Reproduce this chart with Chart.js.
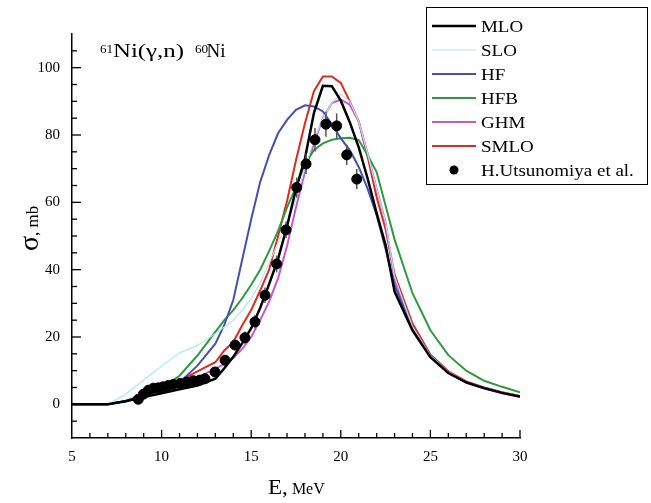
<!DOCTYPE html>
<html>
<head>
<meta charset="utf-8">
<script src="https://cdn.jsdelivr.net/npm/chart.js@4.4.1/dist/chart.umd.min.js"></script>
<style>
  body { margin: 0; background: #fff; }
</style>
</head>
<body>
<canvas id="xsChart" width="651" height="503"></canvas>
<script>
// photon energy grid of the model curves, MeV
var energy = [5, 7, 8, 9, 10, 11, 12, 13, 13.5, 14, 14.5, 15, 15.5, 16, 16.5, 17, 17.5, 18, 18.5, 19, 19.5, 20, 20.5, 21, 21.5, 22, 22.5, 23, 24, 25, 26, 27, 28, 29, 30];

// cross sections, mb
var mlo  = [0, 0, 0.9, 2.2, 3.3, 4.5, 5.6, 7.6, 10.7, 14.1, 18.2, 22.6, 28.6, 35.7, 43.2, 52.9, 64, 73, 86.5, 94.6, 94.5, 90.2, 83.8, 76.3, 67, 56.8, 47.3, 33.5, 22, 14, 9.3, 6.5, 4.8, 3.4, 2.3];
var slo  = [0, 0, 3.0, 7.2, 11.4, 15.3, 17.5, 21, 23, 25, 28, 31.5, 36, 42, 48, 54.1, 60.9, 70.3, 78.4, 84.8, 89.6, 92, 90, 84, 74.5, 64, 54, 38, 23, 14.5, 9.6, 6.7, 5, 3.6, 2.5];
var hf   = [0, 0, 1.0, 2.7, 4.5, 6.5, 11.5, 18, 23.6, 31, 43, 55, 66, 74, 80.5, 84.5, 87.5, 88.8, 88.5, 87, 83.2, 79, 75.5, 70.5, 64, 56.2, 46.1, 35.4, 22.5, 14.5, 9.5, 6.6, 4.9, 3.5, 2.4];
var hfb  = [0, 0, 1.0, 2.7, 4.8, 8.5, 14.5, 21.5, 25, 28, 31.5, 35.5, 40, 45.5, 51.5, 58.5, 64.5, 71.5, 75.5, 77.5, 78.6, 79, 79.2, 78.5, 74, 69, 59, 49, 33, 22, 14.6, 10, 7, 5.2, 3.6];
var ghm  = [0, 0, 0.9, 2.5, 4.2, 6, 8, 10.5, 12, 13.8, 16.5, 20, 25, 30.5, 37.5, 47, 58.5, 69, 77.5, 85, 89.5, 90.5, 89, 84, 74.5, 64, 54, 37, 23, 14.2, 9.3, 6.4, 4.7, 3.3, 2.2];
var smlo = [0, 0, 1.0, 2.7, 4.5, 7.0, 9.8, 12.5, 16, 18.5, 23.5, 28, 33.8, 40, 50, 60.4, 72.5, 83.5, 93, 97.4, 97.4, 95.5, 90, 84, 73.5, 61.5, 52, 38.5, 24, 14.8, 9.8, 6.8, 5, 3.6, 2.5];

// experiment (H.Utsunomiya et al.)
var expE   = [8.70, 8.98, 9.26, 9.54, 9.82, 10.09, 10.37, 10.65, 11.03, 11.40, 11.77, 12.14, 12.42, 12.98, 13.54, 14.10, 14.65, 15.21, 15.77, 16.42, 16.94, 17.54, 18.06, 18.56, 19.17, 19.77, 20.33, 20.89];
var expSig = [1.5, 3.0, 4.2, 4.8, 4.9, 5.2, 5.6, 5.9, 6.2, 6.6, 7.0, 7.2, 7.6, 9.6, 13.1, 17.6, 19.8, 24.5, 32.4, 41.7, 51.8, 64.4, 71.4, 78.6, 83.2, 82.7, 74.1, 66.9];
var expErr = [0.5, 0.6, 0.6, 0.6, 0.6, 0.6, 0.7, 0.7, 0.7, 0.7, 0.8, 0.8, 0.8, 1.0, 1.2, 1.5, 1.8, 2.0, 2.3, 2.5, 2.5, 3.0, 3.0, 3.5, 3.7, 3.7, 3.0, 3.0];

var serif = "'Liberation Serif', 'Times New Roman', serif";

function pts(vals) {
  return energy.map(function (e, i) { return { x: e, y: vals[i] }; });
}

function curve(label, vals, color, width) {
  return {
    label: label,
    data: pts(vals),
    borderColor: color,
    backgroundColor: color,
    borderWidth: width,
    pointRadius: 0,
    tension: 0,
    fill: false
  };
}

// draw text squeezed/stretched horizontally; sx<0 means "fit to width -sx"
function stretchText(ctx, text, x, y, size, sx) {
  ctx.save();
  ctx.font = size + 'px ' + serif;
  var nat = ctx.measureText(text).width;
  if (sx < 0) sx = -sx / nat;
  ctx.translate(x, y);
  ctx.scale(sx, 1);
  ctx.fillText(text, 0, 0);
  ctx.restore();
  return nat * sx;
}

var decor = {
  id: 'decor',
  beforeDatasetDraw: function (chart, args) {
    if (args.index !== 6) return;
    var ctx = chart.ctx, xs = chart.scales.x, ys = chart.scales.y;
    ctx.save();
    ctx.strokeStyle = '#555';
    ctx.lineWidth = 1.5;
    expE.forEach(function (e, i) {
      var px = xs.getPixelForValue(e);
      ctx.beginPath();
      ctx.moveTo(px, ys.getPixelForValue(expSig[i] - expErr[i]));
      ctx.lineTo(px, ys.getPixelForValue(expSig[i] + expErr[i]));
      ctx.stroke();
    });
    ctx.restore();
  },
  afterDraw: function (chart) {
    var ctx = chart.ctx, xs = chart.scales.x, ys = chart.scales.y, a = chart.chartArea;
    ctx.save();
    // inward ticks
    ctx.strokeStyle = '#000';
    ctx.lineWidth = 1.3;
    for (var e = 6; e <= 30; e++) {
      var px = xs.getPixelForValue(e);
      var len = e % 5 === 0 ? 8 : 5;
      ctx.beginPath();
      ctx.moveTo(px, a.bottom);
      ctx.lineTo(px, a.bottom - len);
      ctx.stroke();
    }
    for (var v = -5; v <= 105; v += 5) {
      var py = ys.getPixelForValue(v);
      var l2 = v % 20 === 0 ? 9 : 5;
      ctx.beginPath();
      ctx.moveTo(a.left, py);
      ctx.lineTo(a.left + l2, py);
      ctx.stroke();
    }

    ctx.fillStyle = '#000';
    ctx.textBaseline = 'alphabetic';
    ctx.textAlign = 'left';

    // axis titles
    var w = stretchText(ctx, 'E,', 268, 494, 21, 1.1);
    stretchText(ctx, 'MeV', 268 + w + 4, 494, 16, 1.0);

    ctx.save();
    ctx.translate(38, 251);
    ctx.rotate(-Math.PI / 2);
    ctx.font = '28px ' + serif;
    ctx.fillText('\u03c3', 0, 0);
    var sw = ctx.measureText('\u03c3').width;
    ctx.font = '17px ' + serif;
    ctx.fillText(', mb', sw, 0);
    ctx.restore();

    // reaction label
    stretchText(ctx, '61', 100, 52.5, 12, 1.1);
    stretchText(ctx, 'Ni(\u03b3,n)', 113, 57, 19, -71);
    stretchText(ctx, '60', 195, 52.5, 12, 1.1);
    stretchText(ctx, 'Ni', 206.5, 57, 19, -19);

    // legend box
    ctx.fillStyle = '#fff';
    ctx.fillRect(426, 7, 222, 177);
    ctx.strokeStyle = '#000';
    ctx.lineWidth = 1;
    ctx.strokeRect(426.5, 7.5, 221, 177);
    chart.data.datasets.forEach(function (ds, i) {
      var ry = 26 + i * 24;
      if (ds.showLine === false) {
        ctx.fillStyle = '#000';
        ctx.beginPath();
        ctx.arc(454, ry, 4.5, 0, Math.PI * 2);
        ctx.fill();
      } else {
        ctx.strokeStyle = ds.borderColor;
        ctx.lineWidth = ds.borderWidth;
        ctx.beginPath();
        ctx.moveTo(432, ry);
        ctx.lineTo(476, ry);
        ctx.stroke();
      }
      ctx.fillStyle = '#000';
      stretchText(ctx, ds.label, 481, ry + 6, 16.5, 1.15);
    });
    ctx.restore();
  }
};

var ctx = document.getElementById('xsChart').getContext('2d');
var xsChart = new Chart(ctx, {
  type: 'line',
  data: {
    datasets: [
      curve('MLO', mlo, '#000000', 2.5),
      curve('SLO', slo, '#aee8ec', 1.2),
      curve('HF', hf, '#4450b4', 2),
      curve('HFB', hfb, '#2e9a3e', 2),
      curve('GHM', ghm, '#c957cc', 2),
      curve('SMLO', smlo, '#e3281e', 2),
      {
        label: 'H.Utsunomiya et al.',
        type: 'scatter',
        data: expE.map(function (e, i) { return { x: e, y: expSig[i] }; }),
        backgroundColor: '#000',
        borderColor: '#000',
        pointRadius: 5,
        showLine: false,
        order: -1
      }
    ]
  },
  options: {
    responsive: false,
    animation: false,
    events: [],
    layout: { padding: { top: 34, right: 131, left: 0, bottom: 0 } },
    plugins: {
      legend: { display: false },
      tooltip: { enabled: false }
    },
    scales: {
      x: {
        type: 'linear',
        min: 5,
        max: 30,
        afterFit: function (s) { s.height = 65; },
        grid: { display: false, drawTicks: false },
        border: { display: true, color: '#000', width: 1.5 },
        ticks: { stepSize: 5, padding: 10, maxRotation: 0, color: '#000', font: { family: serif, size: 15 } }
      },
      y: {
        type: 'linear',
        min: -10,
        max: 110,
        afterFit: function (s) { s.width = 72; },
        grid: { display: false, drawTicks: false },
        border: { display: true, color: '#000', width: 1.5 },
        ticks: {
          stepSize: 10,
          padding: 12,
          color: '#000',
          font: { family: serif, size: 15 },
          callback: function (value) { return value >= 0 && value <= 100 && value % 20 === 0 ? value : ''; }
        }
      }
    }
  },
  plugins: [decor]
});
</script>
</body>
</html>
